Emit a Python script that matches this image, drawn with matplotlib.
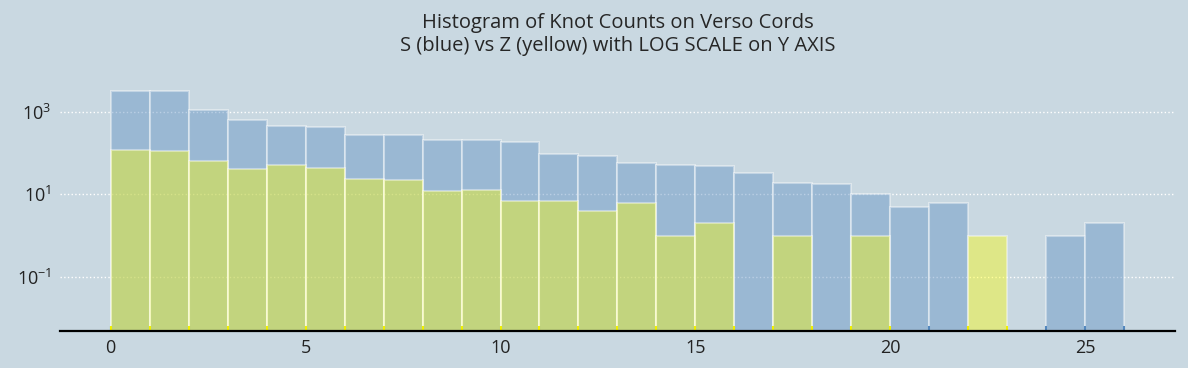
import numpy as np
import matplotlib
matplotlib.use("Agg")
import matplotlib.pyplot as plt

# knot count bins (0..26, width 1)
bin_edges = np.arange(0, 27)

# S knots (blue), counts per bin
s_counts = [3300, 3200, 1140, 650, 460, 435, 277, 276, 209, 205,
            188, 96, 86, 57, 51, 48, 33, 19, 18, 10,
            5, 6, 0, 0, 1, 2]

# Z knots (yellow), counts per bin
z_counts = [122, 116, 65, 41, 52, 44, 24, 22, 12, 13,
            7, 7, 4, 6, 1, 2, 0, 1, 0, 1,
            0, 0, 1, 0, 0, 0]

title = "Histogram of Knot Counts on Verso Cords\nS (blue) vs Z (yellow) with LOG SCALE on Y AXIS"

bg = "#c9d8e1"
plt.rcParams['font.family'] = ['Open Sans', 'DejaVu Sans']
plt.rcParams['mathtext.fontset'] = 'custom'
plt.rcParams['mathtext.rm'] = 'Open Sans'
plt.rcParams['mathtext.it'] = 'Open Sans:italic'
plt.rcParams['mathtext.bf'] = 'Open Sans:bold'

fig = plt.figure(figsize=(11.88, 3.68), dpi=100, facecolor=bg)
ax = fig.add_axes([0.0505, 0.1005, 0.9385, 0.735], facecolor=bg)

left = bin_edges[:-1]
ax.bar(left, s_counts, width=1, align='edge', color="#5488be", alpha=0.4,
       edgecolor="white", linewidth=1.5, zorder=2)
ax.bar(left, z_counts, width=1, align='edge', color="yellow", alpha=0.4,
       edgecolor="white", linewidth=1.5, zorder=3)

# small solid marks at the foot of the bar edges
trans = ax.get_xaxis_transform()
for counts, col in [(s_counts, "#5488be"), (z_counts, "#f0f000")]:
    xs = sorted({e for i, c in enumerate(counts) if c > 0
                 for e in (bin_edges[i], bin_edges[i + 1])})
    ax.vlines(xs, 0, 0.02, transform=trans, colors=col, linewidth=1.5, zorder=4)

ax.set_yscale('log')
ax.set_ylim(10 ** -2.32, 10 ** 4.25)
ax.set_xlim(-1.3, 27.3)
ax.set_yticks([1e-1, 1e1, 1e3])
ax.minorticks_off()
ax.set_xticks([0, 5, 10, 15, 20, 25])

ax.yaxis.grid(True, color="white", linestyle=":", linewidth=1, zorder=1)
ax.set_axisbelow(True)

for side in ['top', 'right', 'left']:
    ax.spines[side].set_visible(False)
ax.spines['bottom'].set_color('black')
ax.spines['bottom'].set_linewidth(1.6)
ax.spines['bottom'].set_zorder(5)

ax.tick_params(axis='both', length=0, labelsize=13, colors="#222222")
ax.tick_params(axis='x', pad=6)
ax.tick_params(axis='y', pad=6)

ax.set_title(title, fontsize=14.5, color="#262626", pad=7, linespacing=1.2)

fig.savefig("out.png", dpi=100, facecolor=bg)
